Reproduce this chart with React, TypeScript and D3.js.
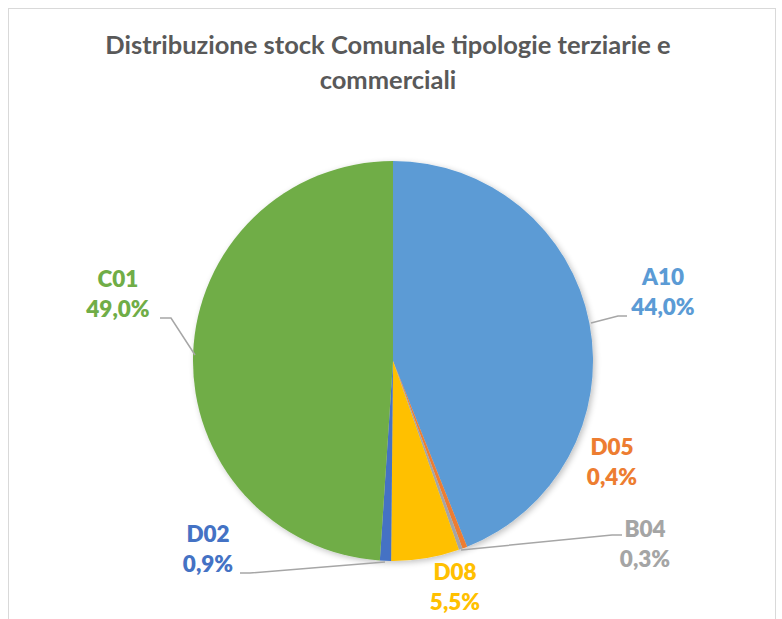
import React from "react";
import * as d3 from "d3";

const categories = ["A10", "D05", "B04", "D08", "D02", "C01"];
const values = [44.0, 0.4, 0.3, 5.5, 0.9, 49.0];
const labels = ["44,0%", "0,4%", "0,3%", "5,5%", "0,9%", "49,0%"];
const colors = ["#5B9BD5", "#ED7D31", "#A5A5A5", "#FFC000", "#4472C4", "#70AD47"];
const titleLines = ["Distribuzione stock Comunale tipologie terziarie e", "commerciali"];

// label anchor positions (center x, baseline of first line)
const labelPos: [number, number][] = [
  [663, 285],
  [612, 455],
  [645, 537],
  [455, 580],
  [208, 542],
  [118, 287],
];
// leader lines
const leaders: ([number, number][] | null)[] = [
  [[591, 323], [618, 316], [627, 316]],
  null,
  [[461, 550], [612, 535], [622, 535]],
  null,
  [[385, 562], [250, 573], [240, 573]],
  [[195, 355], [171, 318], [160, 318]],
];

const W = 782;
const H = 619;
const cx = 393;
const cy = 361;
const R = 200;
const FONT = "Lato, 'Open Sans', sans-serif";

export default function App() {
  const pie = d3.pie<number>().sort(null).value((d) => d);
  const arcs = pie(values);
  const arc = d3.arc<d3.PieArcDatum<number>>().innerRadius(0).outerRadius(R);
  return (
    <svg
      width={W}
      height={H}
      style={{ position: "absolute", left: 0, top: 0, background: "#fff" }}
    >
      <defs>
        <filter id="sh" x="-20%" y="-20%" width="140%" height="140%">
          <feGaussianBlur in="SourceAlpha" stdDeviation="3" />
          <feOffset dx="2" dy="2" result="b" />
          <feComponentTransfer>
            <feFuncA type="linear" slope="0.25" />
          </feComponentTransfer>
          <feMerge>
            <feMergeNode />
            <feMergeNode in="SourceGraphic" />
          </feMerge>
        </filter>
      </defs>
      <rect x={8.5} y={8.5} width={767} height={640} fill="#fff" stroke="#D9D9D9" strokeWidth={1} />
      {titleLines.map((t, i) => (
        <text
          key={i}
          x={W / 2 - 3}
          y={54 + i * 35}
          textAnchor="middle"
          fontFamily={FONT}
          fontWeight={700}
          fontSize={25.5}
          fill="#595959"
        >
          {t}
        </text>
      ))}
      <g transform={`translate(${cx},${cy})`} filter="url(#sh)">
        {arcs.map((a, i) => (
          <path key={i} d={arc(a) || ""} fill={colors[i]} />
        ))}
      </g>
      {leaders.map((pts, i) =>
        pts ? (
          <path
            key={i}
            d={d3.line()(pts) || ""}
            fill="none"
            stroke="#A6A6A6"
            strokeWidth={1.5}
          />
        ) : null
      )}
      {categories.map((c, i) => (
        <text
          key={c}
          x={labelPos[i][0]}
          y={labelPos[i][1]}
          textAnchor="middle"
          fontFamily={FONT}
          fontWeight={800}
          fontSize={22.5}
          fill={colors[i]}
        >
          <tspan x={labelPos[i][0]}>{c}</tspan>
          <tspan x={labelPos[i][0]} dy={30}>
            {labels[i]}
          </tspan>
        </text>
      ))}
    </svg>
  );
}
